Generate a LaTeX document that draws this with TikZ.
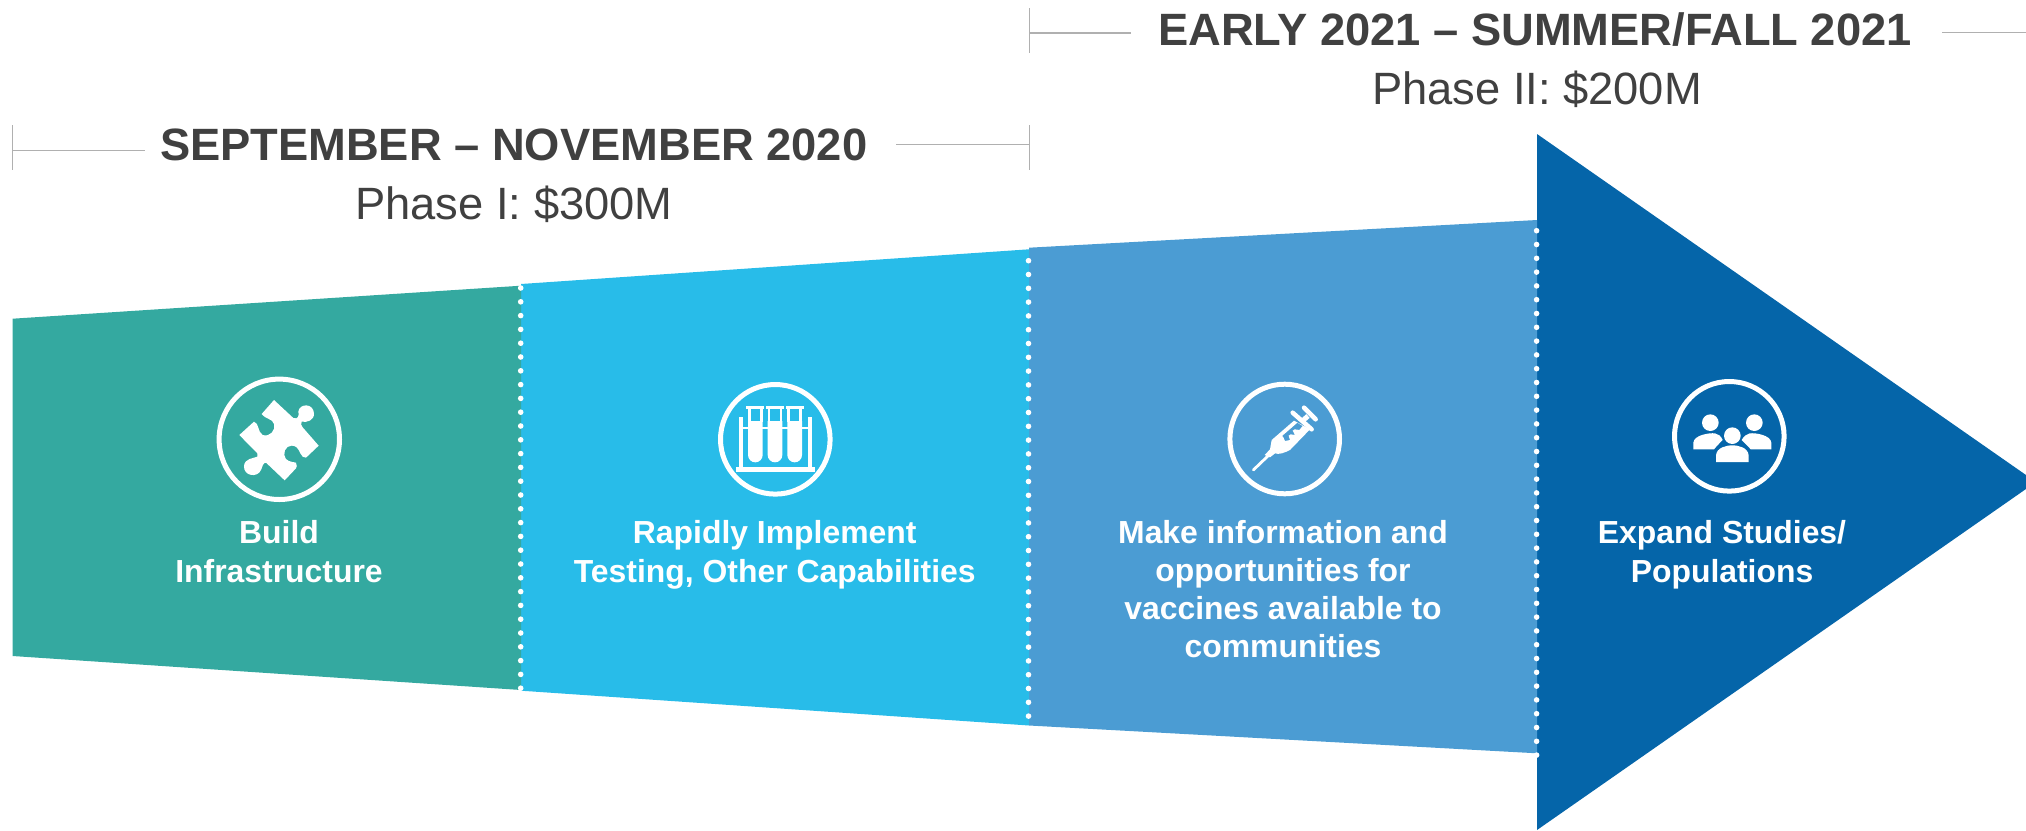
\documentclass[tikz,border=0pt]{standalone}
\usepackage{fontspec}
\setmainfont{Liberation Sans}
\definecolor{cgreen}{HTML}{34A9A0}
\definecolor{ccyan}{HTML}{28BCE9}
\definecolor{cmid}{HTML}{4B9CD3}
\definecolor{cdark}{HTML}{0565A9}
\definecolor{ctext}{HTML}{404040}
\definecolor{crule}{HTML}{B0B0B0}
\tikzset{
  x=1pt,y=-1pt,
  head/.style={text=ctext,font=\fontsize{45.3}{50}\selectfont\bfseries,inner sep=0pt,anchor=base},
  sub/.style={text=ctext,font=\fontsize{45.3}{50}\selectfont,inner sep=0pt,anchor=base},
  lab/.style={text=white,font=\fontsize{31.9}{38.2}\selectfont\bfseries,inner sep=0pt,align=center,anchor=base},
  rulel/.style={draw=crule,line width=1.5pt},
  tick/.style={draw=crule,line width=1pt},
  dots/.style={draw=white,line width=5.6pt,line cap=round,dash pattern=on 0pt off 13.8pt},
  ring/.style={draw=white,line width=5pt,circle,inner sep=0pt,fill=none},
}
\begin{document}
\begin{tikzpicture}
\useasboundingbox (0,0) rectangle (2026,830);
\begin{scope}
\clip (0,0) rectangle (2026,830);
\fill[cdark] (1537,134) -- (2036,482) -- (1537,830) -- cycle;
\end{scope}
\fill[cmid] (1029,247.7) -- (1537,220) -- (1537,753.3) -- (1029,725.5) -- cycle;
\fill[ccyan] (521,284) -- (1029,249.3) -- (1029,725.5) -- (521,690.7) -- cycle;
\fill[cgreen] (12.6,318.7) -- (521,285.7) -- (521,690) -- (12.6,656) -- cycle;
% dotted dividers
\coordinate (d1a) at (520.7,288); \coordinate (d1b) at (520.7,690);
\coordinate (d2a) at (1028.5,260.7); \coordinate (d2b) at (1028.5,720);
\coordinate (d3a) at (1536.6,230.7); \coordinate (d3b) at (1536.6,758);
\draw[dots] (d1a) -- (d1b);
\draw[dots] (d2a) -- (d2b);
\draw[dots] (d3a) -- (d3b);
% brackets
\coordinate (a1) at (12.6,125); \coordinate (a2) at (12.6,170);
\coordinate (a3) at (12.6,150.5); \coordinate (a4) at (144.6,150.5);
\coordinate (a5) at (896,144.7); \coordinate (a6) at (1029,144.7);
\coordinate (a7) at (1029,125); \coordinate (a8) at (1029,170);
\coordinate (b1) at (1029,8); \coordinate (b2) at (1029,53);
\coordinate (b3) at (1029,33); \coordinate (b4) at (1131,33);
\coordinate (b5) at (1942,32.3); \coordinate (b6) at (2026,32.3);
\draw[tick] (a1) -- (a2); \draw[rulel] (a3) -- (a4);
\draw[rulel] (a5) -- (a6); \draw[tick] (a7) -- (a8);
\draw[tick] (b1) -- (b2); \draw[rulel] (b3) -- (b4);
\draw[rulel] (b5) -- (b6);
% headers
\node[head] (h1) at (513.7,160) {SEPTEMBER – NOVEMBER 2020};
\node[sub] (s1) at (514,219.3) {Phase I: \$300M};
\node[head] (h2) at (1535,45.3) {EARLY 2021 – SUMMER/FALL 2021};
\node[sub] (s2) at (1537,104.7) {Phase II: \$200M};
% rings
\node[ring,minimum size=120.4pt] (c1) at (279.3,439.3) {};
\node[ring,minimum size=109.6pt] (c2) at (775.3,439.3) {};
\node[ring,minimum size=109.6pt] (c3) at (1284.7,439) {};
\node[ring,minimum size=109.6pt] (c4) at (1729.3,436.3) {};
% labels
\node[lab] (l1) at (279,582) {Build\\Infrastructure};
\node[lab] (l2) at (774.7,582) {Rapidly Implement\\Testing, Other Capabilities};
\node[lab] (l3) at (1283,657.7) {Make information and\\opportunities for\\vaccines available to\\communities};
\node[lab] (l4) at (1722,582) {Expand Studies/\\Populations};
% puzzle icon
\begin{scope}[shift={(150,340)},xscale=1/3,yscale=1/3]
\fill[white] (372,180) -- (430,234) .. controls (445,240) and (448,225) .. (445,215)
 .. controls (448,190) and (490,188) .. (492,220)
 .. controls (493,242) and (470,248) .. (455,245) .. controls (452,250) and (453,258) .. (458,262)
 -- (506,317) -- (468,353) .. controls (452,355) and (450,330) .. (440,322)
 .. controls (420,308) and (400,325) .. (403,345) .. controls (405,365) and (425,365) .. (438,368)
 .. controls (442,375) and (440,382) .. (438,385) -- (404,421) -- (348,368)
 .. controls (338,368) and (338,380) .. (333,390) .. controls (322,415) and (280,408) .. (282,378)
 .. controls (284,355) and (310,355) .. (322,350) -- (322,340) -- (268,285) -- (312,245)
 .. controls (328,250) and (322,275) .. (338,285) .. controls (360,292) and (378,270) .. (372,252)
 .. controls (368,235) and (345,238) .. (335,222) -- cycle;
\end{scope}
% test tube icon
\begin{scope}[shift={(660,340)},xscale=1/3,yscale=1/3]
\fill[white] (228,381) rectangle (465,396);
\fill[white] (238,231) rectangle (250,385);
\fill[white] (443,231) rectangle (455,385);
\fill[white] (245,262) rectangle (450,268);
\foreach \tx in {286,345,404}{
  \fill[white] (\tx-22,243) -- (\tx+22,243) -- (\tx+22,345) arc[start angle=0,end angle=180,radius=22pt,y radius=-22pt] -- cycle;
  \fill[white] (\tx-27,198) rectangle (\tx+27,208);
  \fill[white] (\tx-22,208) rectangle (\tx-14,245);
  \fill[white] (\tx+14,208) rectangle (\tx+22,245);
}
\end{scope}
% syringe icon
\begin{scope}[shift={(1170,340)},xscale=1/3,yscale=1/3]
\draw[white,line width=2.8pt,line cap=round] (250,390) -- (300,342);
\fill[white,even odd rule] (284,345) -- (300,328) -- (305,300) -- (372,242) -- (420,268) -- (360,330) .. controls (345,338) and (325,345) .. (315,340) -- (300,352) -- cycle
 (340,292) -- (345,303) -- (360,300) -- (356,287) -- (362,283) -- (375,285) -- (368,272) -- (374,268) -- (388,270) -- (398,258) -- (382,248) -- (336,288) -- cycle;
\draw[white,line width=4.5pt,line cap=round] (368,218) -- (425,268);
\draw[white,line width=4.5pt,line cap=round] (402,203) -- (437,238);
\draw[white,line width=5pt] (395,245) -- (414,228);
\end{scope}
% people icon
\begin{scope}[shift={(1620,340)},xscale=1/3,yscale=1/3]
\fill[white] (271,248) circle[radius=25pt];
\fill[white] (403,248) circle[radius=25pt];
\fill[white] (337,287) circle[radius=25pt];
\fill[white] (220,328) -- (220,308) .. controls (222,285) and (268,278) .. (285,280) .. controls (295,282) and (303,288) .. (308,300) .. controls (300,308) and (290,318) .. (282,328) -- cycle;
\fill[white] (454,328) -- (454,308) .. controls (452,285) and (406,278) .. (389,280) .. controls (380,282) and (372,288) .. (365,300) .. controls (372,308) and (384,318) .. (392,328) -- cycle;
\fill[white] (288,366) -- (288,346) .. controls (290,322) and (320,316) .. (337,316) .. controls (354,316) and (384,322) .. (386,346) -- (386,366) -- cycle;
\end{scope}
\end{tikzpicture}
\end{document}
